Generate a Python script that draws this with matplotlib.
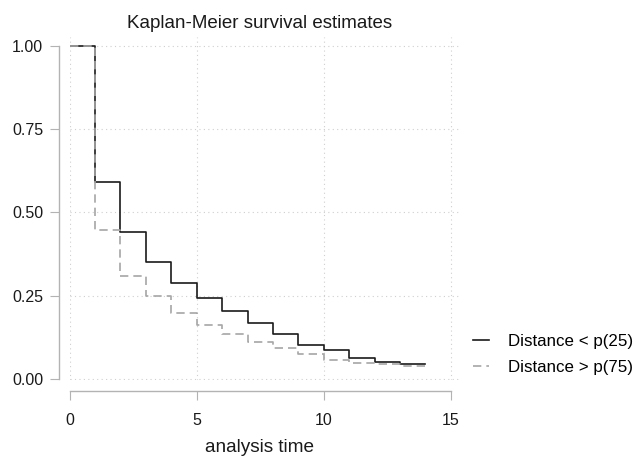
import matplotlib
matplotlib.use("Agg")
import matplotlib.pyplot as plt

plt.rcParams["font.family"] = ["Liberation Sans", "DejaVu Sans"]

# survival estimates at each analysis time (step function, right-continuous)
times = [0, 1, 2, 3, 4, 5, 6, 7, 8, 9, 10, 11, 12, 13, 14]
surv_low = [1.00, 0.59, 0.44, 0.35, 0.29, 0.243, 0.204, 0.169, 0.136, 0.103,
            0.088, 0.064, 0.053, 0.046, 0.046]
surv_high = [1.00, 0.447, 0.31, 0.25, 0.199, 0.164, 0.137, 0.112, 0.093, 0.076,
             0.059, 0.049, 0.045, 0.041, 0.041]
labels = ["Distance < p(25)", "Distance > p(75)"]
xticks = [0, 5, 10, 15]
yticks = [0.0, 0.25, 0.5, 0.75, 1.0]

fig = plt.figure(figsize=(6.34, 4.57), dpi=100)
ax = fig.add_axes([0.1098, 0.1678, 0.6158, 0.7512])

ax.step(times, surv_low, where="post", color="#1a1a1a", lw=1.2, label=labels[0])
ax.step(times, surv_high, where="post", color="#a6a6a6", lw=1.2,
        linestyle=(0, (5, 3)), label=labels[1])

ax.set_xlim(0, 15.36)
ax.set_ylim(-0.003, 1.0255)
ax.set_xticks(xticks)
ax.set_yticks(yticks)
ax.set_yticklabels([f"{v:.2f}" for v in yticks])
ax.grid(True, linestyle=(0, (1, 3)), color="#cfcfcf", lw=0.8)
ax.set_axisbelow(True)

for s in ["top", "right"]:
    ax.spines[s].set_visible(False)
ax.spines["left"].set_bounds(0, 1)
ax.spines["bottom"].set_bounds(0, 15)
ax.spines["left"].set_position(("outward", 7.4))
ax.spines["bottom"].set_position(("outward", 7.7))
for s in ["left", "bottom"]:
    ax.spines[s].set_color("#b3b3b3")
    ax.spines[s].set_linewidth(1.0)

ax.tick_params(axis="both", direction="out", length=6.5, color="#b3b3b3",
               labelsize=11.5, labelcolor="#1a1a1a")
ax.tick_params(axis="x", pad=9.3)
ax.tick_params(axis="y", pad=5)

fig.text(0.41, 1 - 452 / 457, "analysis time", fontsize=13.7, ha="center",
         va="baseline", color="#1a1a1a")
fig.text(0.4093, 1 - 28 / 457, "Kaplan-Meier survival estimates", fontsize=13.5,
         ha="center", va="baseline", color="#1a1a1a")

fig.legend(loc="center left", bbox_to_anchor=(0.746, 0.224), frameon=False,
           fontsize=12.2, handlelength=0.95, handletextpad=1.1, labelspacing=0.68,
           borderpad=0, borderaxespad=0)

fig.savefig("out.png", dpi=100)
